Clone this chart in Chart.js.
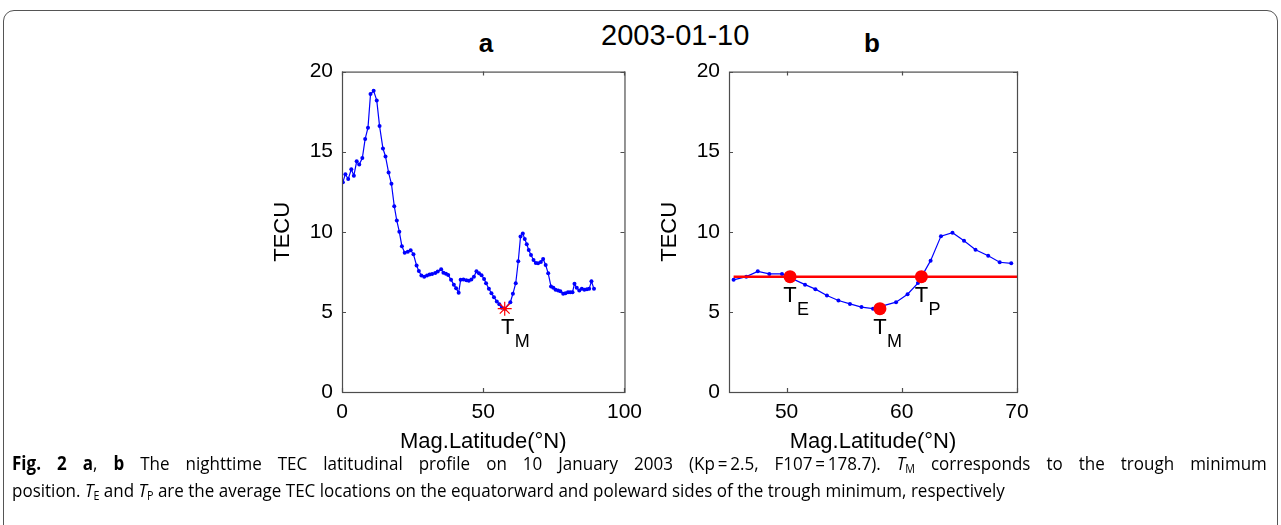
<!DOCTYPE html>
<html>
<head>
<meta charset="utf-8">
<script src="https://cdn.jsdelivr.net/npm/chart.js@4.4.0/dist/chart.umd.min.js"></script>
<style>
body { margin:0; background:#fff; width:1281px; height:525px; overflow:hidden; position:relative; font-family:"Liberation Sans", Arial, sans-serif; color:#000; }
#frame { position:absolute; left:3px; top:10px; width:1273px; height:560px; border:1.5px solid #555; border-radius:11px; }
canvas { position:absolute; top:50px; }
#cA { left:240px; }
#cB { left:627px; }
.ttl { position:absolute; font-size:29px; }
.pl { position:absolute; font-size:26px; font-weight:bold; transform:translateX(-50%); }
.cap { position:absolute; left:12px; font-family:"Open Sans", sans-serif; font-size:19px; white-space:nowrap; transform-origin:0 0; transform:scaleX(0.895); }
.cap i { font-style:italic; }
.cap sub { font-size:12px; vertical-align:-3px; }
#cap1 { width:1402px; white-space:normal; text-align:justify; text-align-last:justify; }
</style>
</head>
<body>
<div id="frame"></div>
<div class="ttl" style="left:601px; top:19px;">2003-01-10</div>
<div class="pl" style="left:486px; top:28px;">a</div>
<div class="pl" style="left:872px; top:28px;">b</div>
<canvas id="cA" width="410" height="410"></canvas>
<canvas id="cB" width="410" height="410"></canvas>
<div class="cap" id="cap1" style="top:450px;"><b>Fig. 2 a</b>, <b>b</b> The nighttime TEC latitudinal profile on 10 January 2003 (Kp&thinsp;=&thinsp;2.5, F107&thinsp;=&thinsp;178.7). <i>T</i><sub>M</sub> corresponds to the trough minimum</div>
<div class="cap" style="top:477px;">position. <i>T</i><sub>E</sub> and <i>T</i><sub>P</sub> are the average TEC locations on the equatorward and poleward sides of the trough minimum, respectively</div>
<script>
// panel a: full nighttime profile
const latA = [0.3, 1.2, 2.2, 3.3, 4.2, 5.2, 6.1, 7.2, 8.2, 9.2, 10.1, 11.2, 12.3, 13.3, 14.5, 15.4, 16.5, 17.5, 18.5, 19.4,
  20.3, 21.2, 22.2, 23.3, 24.3, 25.3, 26.4, 27.2, 28.1, 29.1, 30.1, 31.0, 31.9, 33.0, 33.9, 35.1, 35.9, 36.8, 37.6, 38.6,
  39.6, 40.4, 41.3, 42.0, 43.0, 44.0, 44.9, 45.8, 46.7, 47.6, 48.5, 49.4, 50.3, 51.0, 52.0, 52.9, 53.8, 54.8, 55.7, 56.6,
  57.6, 59.6, 60.5, 61.5, 62.4, 63.2, 64.0, 64.7, 65.4, 66.1, 66.9, 67.8, 68.6, 69.4, 70.4, 71.2, 72.1, 73.0, 74.0, 74.8,
  75.6, 76.5, 77.3, 78.3, 79.1, 80.0, 80.8, 81.6, 82.3, 83.1, 84.0, 84.9, 85.8, 86.7, 87.5, 88.3, 89.2];
const tecA = [13.1, 13.6, 13.3, 13.9, 13.5, 14.4, 14.2, 14.6, 15.8, 16.5, 18.6, 18.8, 18.2, 16.6, 15.2, 14.7, 13.7, 13.0, 11.6, 10.7,
  10.0, 9.1, 8.7, 8.75, 8.85, 8.6, 7.9, 7.55, 7.27, 7.2, 7.27, 7.33, 7.37, 7.43, 7.52, 7.66, 7.45, 7.38, 7.3, 7.0,
  6.7, 6.47, 6.2, 7.0, 7.02, 6.98, 6.95, 7.02, 7.2, 7.54, 7.41, 7.29, 7.06, 6.79, 6.44, 6.17, 5.92, 5.65, 5.47, 5.26,
  5.2, 5.61, 6.13, 6.79, 8.16, 9.71, 9.9, 9.55, 9.23, 8.86, 8.55, 8.24, 8.05, 8.03, 8.12, 8.3, 7.93, 7.41, 6.58, 6.5,
  6.38, 6.34, 6.29, 6.13, 6.17, 6.23, 6.23, 6.23, 6.75, 6.5, 6.34, 6.44, 6.38, 6.42, 6.44, 6.91, 6.44];
const minLatA = 57.6, minTecA = 5.2;

// panel b: zoom on the trough
const latB = [45.4, 46.5, 47.5, 48.5, 49.6, 51.6, 52.5, 53.5, 54.5, 55.5, 56.5, 57.5, 59.5, 60.5, 61.4, 62.5, 63.4, 64.4, 65.4, 66.4, 67.5, 68.5, 69.5];
const tecB = [7.0, 7.2, 7.53, 7.37, 7.37, 6.7, 6.42, 6.02, 5.71, 5.5, 5.3, 5.2, 5.61, 6.1, 6.8, 8.2, 9.73, 9.94, 9.44, 8.88, 8.5, 8.1, 8.03];
const refLatB = [45.4, 70];
const refTecB = [7.2, 7.2];
const markLatB = [50.3, 58.1, 61.7];
const markTecB = [7.2, 5.2, 7.2];
const markSub = ['E', 'M', 'P'];

const yTicks = [0, 5, 10, 15, 20];
const xTicksA = [0, 50, 100];
const xTicksB = [50, 60, 70];

const FONT = '"Liberation Sans", Arial, sans-serif';

function pts(xs, ys) {
    return xs.map((x, i) => ({ x: x, y: ys[i] }));
}

// matlab style box with inward ticks
const boxTicks = {
    id: 'boxTicks',
    afterDraw(chart) {
        const { ctx, chartArea: a, scales: { x, y } } = chart;
        ctx.save();
        ctx.strokeStyle = '#4d4d4d';
        ctx.lineWidth = 1.2;
        ctx.strokeRect(a.left + 0.5, a.top + 0.5, a.right - a.left, a.bottom - a.top);
        ctx.beginPath();
        x.ticks.forEach(t => {
            const px = Math.round(x.getPixelForValue(t.value)) + 0.5;
            ctx.moveTo(px, a.bottom); ctx.lineTo(px, a.bottom - 4);
            ctx.moveTo(px, a.top); ctx.lineTo(px, a.top + 4);
        });
        y.ticks.forEach(t => {
            const py = Math.round(y.getPixelForValue(t.value)) + 0.5;
            ctx.moveTo(a.left, py); ctx.lineTo(a.left + 4, py);
            ctx.moveTo(a.right, py); ctx.lineTo(a.right - 4, py);
        });
        ctx.stroke();
        ctx.restore();
    }
};

// T with subscript next to the marked points
const tLabels = {
    id: 'tLabels',
    afterDatasetsDraw(chart, args, opts) {
        const { ctx, scales: { x, y } } = chart;
        ctx.save();
        ctx.fillStyle = '#000';
        ctx.textBaseline = 'middle';
        (opts.items || []).forEach(it => {
            const px = x.getPixelForValue(it.x) + (it.dx || 0);
            const py = y.getPixelForValue(it.y);
            ctx.font = '22px ' + FONT;
            ctx.textAlign = 'center';
            ctx.fillText('T', px, py + 19);
            ctx.font = '18px ' + FONT;
            ctx.textAlign = 'left';
            ctx.fillText(it.sub, px + 7, py + 33);
        });
        ctx.restore();
    }
};

function makeOptions(xMin, xMax, xTicks, labels) {
    return {
        responsive: false,
        animation: false,
        layout: { padding: { left: 0, top: 20, right: 20, bottom: 0 } },
        plugins: { legend: { display: false }, tooltip: { enabled: false }, tLabels: { items: labels } },
        scales: {
            x: {
                type: 'linear', min: xMin, max: xMax,
                grid: { display: false, drawTicks: false },
                border: { display: false },
                afterBuildTicks: s => { s.ticks = xTicks.map(v => ({ value: v })); },
                afterFit: s => { s.height = 68; },
                ticks: { color: '#000', padding: 8, font: { family: FONT, size: 21 } },
                title: { display: true, text: 'Mag.Latitude(°N)', color: '#000', padding: { top: 4, bottom: 5 }, font: { family: FONT, size: 22 } }
            },
            y: {
                type: 'linear', min: 0, max: 20,
                grid: { display: false, drawTicks: false },
                border: { display: false },
                afterBuildTicks: s => { s.ticks = yTicks.map(v => ({ value: v })); },
                afterFit: s => { s.width = 102; },
                ticks: { color: '#000', padding: 9, font: { family: FONT, size: 21 } },
                title: { display: true, text: 'TECU', color: '#000', padding: { top: 30, bottom: 4 }, font: { family: FONT, size: 22 } }
            }
        }
    };
}

new Chart(document.getElementById('cA'), {
    type: 'scatter',
    data: {
        datasets: [
            { data: [{ x: minLatA, y: minTecA }], pointStyle: 'star', pointRadius: 7, borderColor: '#ff0000', borderWidth: 1.2, backgroundColor: '#ff0000', showLine: false },
            { data: pts(latA, tecA), showLine: true, borderColor: '#0000ff', borderWidth: 1.2, backgroundColor: '#0000ff', pointRadius: 2, pointBorderWidth: 0 }
        ]
    },
    options: makeOptions(0, 100, xTicksA, [{ x: minLatA, y: minTecA, sub: 'M', dx: 3 }]),
    plugins: [boxTicks, tLabels]
});

new Chart(document.getElementById('cB'), {
    type: 'scatter',
    data: {
        datasets: [
            { data: pts(markLatB, markTecB), showLine: false, pointRadius: 6.5, backgroundColor: '#ff0000', borderColor: '#ff0000', pointBorderWidth: 0 },
            { data: pts(refLatB, refTecB), showLine: true, borderColor: '#ff0000', borderWidth: 2.5, pointRadius: 0 },
            { data: pts(latB, tecB), showLine: true, borderColor: '#0000ff', borderWidth: 1.2, backgroundColor: '#0000ff', pointRadius: 2, pointBorderWidth: 0 }
        ]
    },
    options: makeOptions(45, 70, xTicksB, markLatB.map((v, i) => ({ x: v, y: markTecB[i], sub: markSub[i] }))),
    plugins: [boxTicks, tLabels]
});
</script>
</body>
</html>
